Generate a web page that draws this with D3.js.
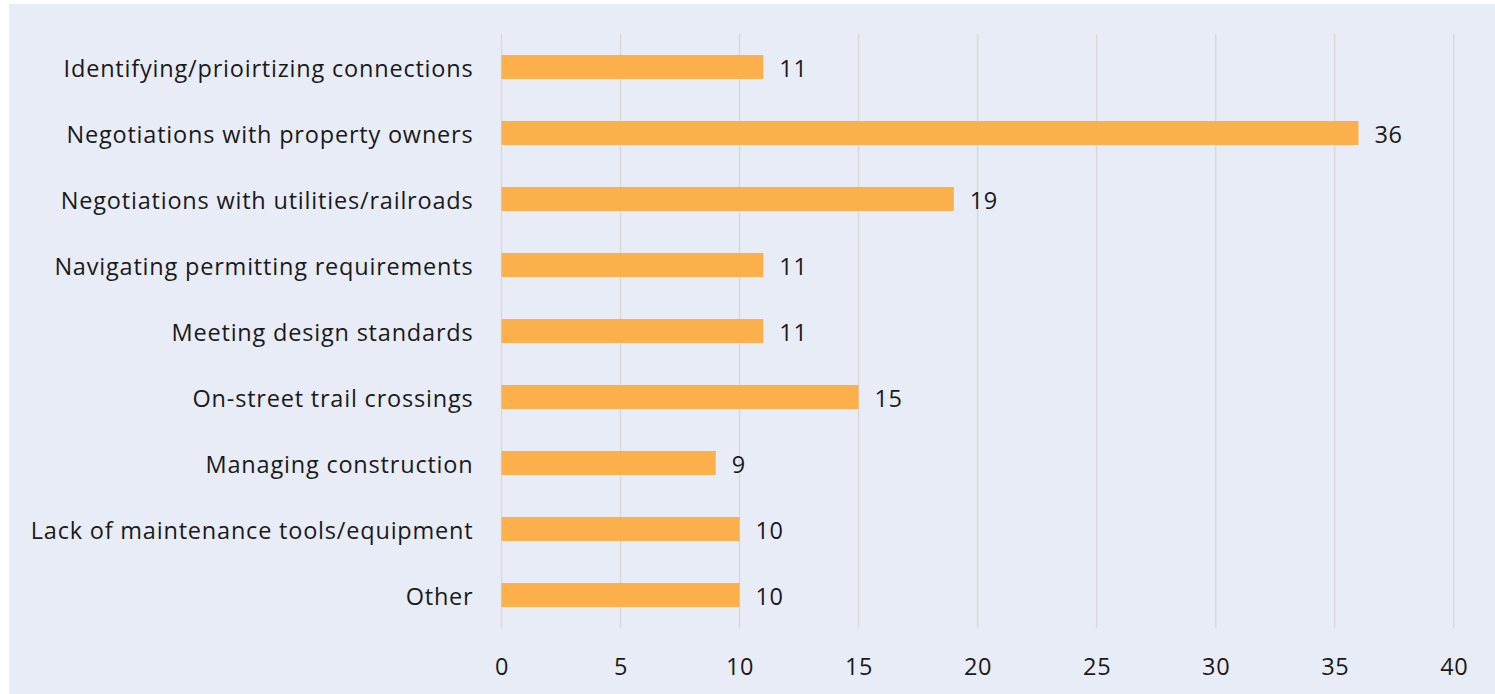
<!DOCTYPE html>
<html>
<head>
<meta charset="utf-8">
<script src="https://cdn.jsdelivr.net/npm/d3@7"></script>
<style>
  body { margin: 0; background: #fff; }
  svg { display: block; }
  text { font-family: "Open Sans", sans-serif; fill: #1a1a1a; }
</style>
</head>
<body>
<svg id="chart" width="1495" height="694"></svg>
<script>
// Data
const categories = [
  "Identifying/prioirtizing connections",
  "Negotiations with property owners",
  "Negotiations with utilities/railroads",
  "Navigating permitting requirements",
  "Meeting design standards",
  "On-street trail crossings",
  "Managing construction",
  "Lack of maintenance tools/equipment",
  "Other"
];
const values = [11, 36, 19, 11, 11, 15, 9, 10, 10];
const xTicks = [0, 5, 10, 15, 20, 25, 30, 35, 40];

const svg = d3.select("#chart"),
  width = +svg.attr("width"),
  height = +svg.attr("height");

const fontSize = "23.5px";

// background panel
svg.append("rect")
  .attr("x", 9).attr("y", 4)
  .attr("width", width - 9).attr("height", height - 4)
  .attr("fill", "#e8ecf7");

const margin = { left: 501.5, right: 1495 - 1453.7, top: 34, bottom: 694 - 628 };

const x = d3.scaleLinear()
  .domain([0, 40])
  .range([margin.left, width - margin.right]);

const y = d3.scaleBand()
  .domain(categories)
  .range([margin.top, height - margin.bottom])
  .paddingInner(0.636)
  .paddingOuter(0.318);

// gridlines
svg.append("g")
  .selectAll("line")
  .data(xTicks)
  .join("line")
  .attr("x1", d => x(d)).attr("x2", d => x(d))
  .attr("y1", margin.top).attr("y2", height - margin.bottom)
  .attr("stroke", "#d9d9d9")
  .attr("stroke-width", 1.5);

// bars
svg.append("g")
  .selectAll("rect")
  .data(values)
  .join("rect")
  .attr("x", x(0))
  .attr("y", (d, i) => y(categories[i]))
  .attr("width", d => x(d) - x(0))
  .attr("height", y.bandwidth())
  .attr("fill", "#fbb04b");

// value labels
svg.append("g")
  .selectAll("text")
  .data(values)
  .join("text")
  .attr("x", d => x(d) + 16)
  .attr("y", (d, i) => y(categories[i]) + y.bandwidth() / 2)
  .attr("dy", "0.42em")
  .style("font-size", fontSize)
  .style("letter-spacing", "0.6px")
  .text(d => d);

// category axis
const yAxis = svg.append("g")
  .attr("transform", `translate(${margin.left - 28},0)`)
  .call(d3.axisLeft(y).tickSize(0).tickPadding(0));
yAxis.select(".domain").remove();
yAxis.selectAll("text")
  .attr("dy", "0.42em")
  .style("font-size", fontSize)
  .style("letter-spacing", "0.8px")
  .style("font-family", "'Open Sans', sans-serif")
  .attr("fill", "#1a1a1a");

// value axis
const xAxis = svg.append("g")
  .attr("transform", `translate(0,${height - margin.bottom})`)
  .call(d3.axisBottom(x).tickValues(xTicks).tickSize(0).tickPadding(30));
xAxis.select(".domain").remove();
xAxis.selectAll("text")
  .style("font-size", fontSize)
  .style("letter-spacing", "0.6px")
  .style("font-family", "'Open Sans', sans-serif")
  .attr("fill", "#1a1a1a");
</script>
</body>
</html>
